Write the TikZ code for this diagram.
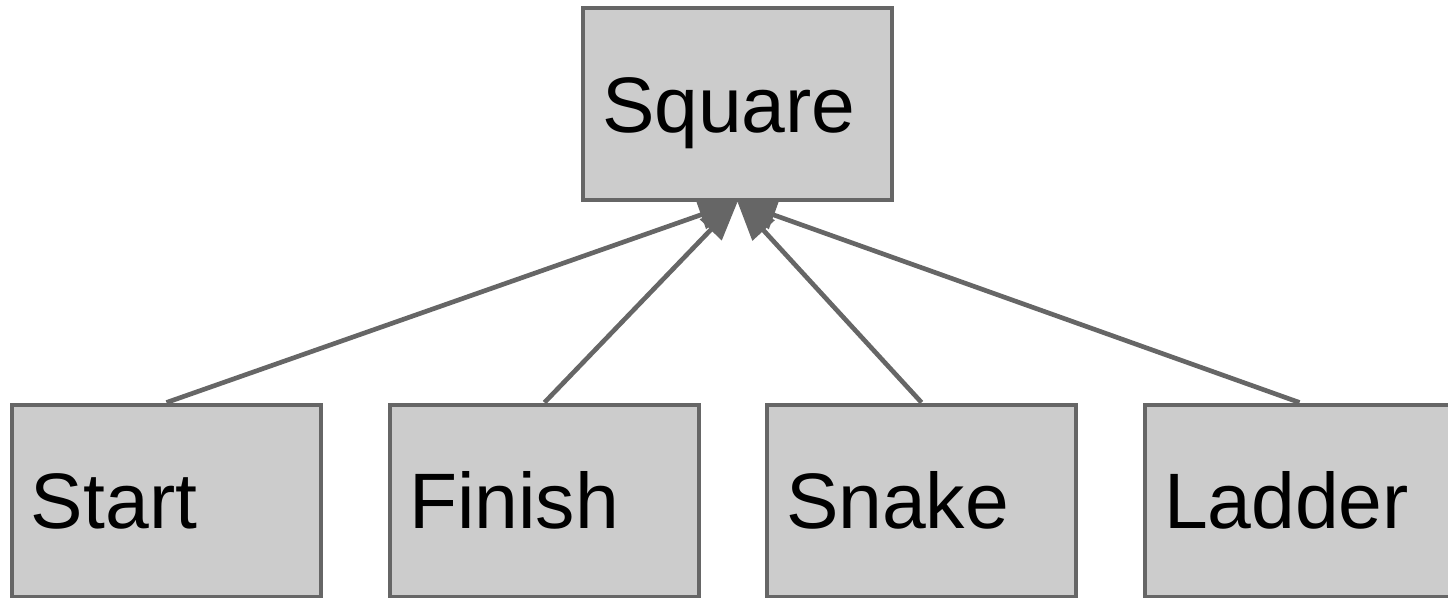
\documentclass[tikz,border=0pt]{standalone}
\usepackage{fontspec}
\setmainfont{Liberation Sans}
\usetikzlibrary{arrows.meta}
\definecolor{linegray}{HTML}{666666}
\definecolor{boxgray}{HTML}{CCCCCC}
\begin{document}
\begin{tikzpicture}[x=0.75pt,y=-0.75pt,
  classbox/.style={draw=linegray, fill=boxgray, line width=3pt,
    minimum width=231.75pt, minimum height=144pt,
    text width=203.25pt, align=left, inner xsep=14.25pt, inner ysep=0pt,
    font=\fontsize{59pt}{70pt}\selectfont,
    text height=42.2pt, text depth=0pt},
  inherit/.style={draw=linegray, line width=3.5pt,
    -{Triangle[length=29pt,width=22pt]}}]
\useasboundingbox (0,0) rectangle (1448,598);
\node[classbox] (square) at (737.5,104) {Square};
\node[classbox] (start) at (166.5,500.5) {Start};
\node[classbox] (finish) at (544.5,500.5) {Finish};
\node[classbox] (snake) at (921.5,500.5) {Snake};
\node[classbox] (ladder) at (1299.5,500.5) {Ladder};
\draw[inherit] (start.north) -- (square.south);
\draw[inherit] (finish.north) -- (square.south);
\draw[inherit] (snake.north) -- (square.south);
\draw[inherit] (ladder.north) -- (square.south);
\end{tikzpicture}
\end{document}
